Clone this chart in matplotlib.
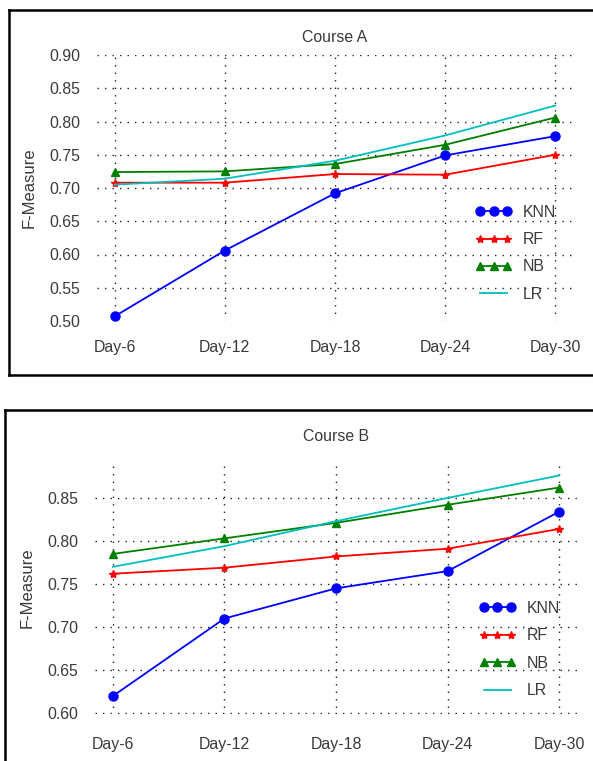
import matplotlib
matplotlib.use("Agg")
import matplotlib.pyplot as plt
from matplotlib.lines import Line2D
from matplotlib.legend_handler import HandlerLine2D

plt.rcParams['font.family'] = ['Liberation Sans', 'DejaVu Sans']

# datos
days = ['Day-6', 'Day-12', 'Day-18', 'Day-24', 'Day-30']

knn_a = [0.507, 0.606, 0.692, 0.749, 0.778]
rf_a = [0.708, 0.708, 0.721, 0.720, 0.750]
nb_a = [0.724, 0.725, 0.736, 0.765, 0.806]
lr_a = [0.705, 0.714, 0.741, 0.779, 0.824]

knn_b = [0.620, 0.710, 0.745, 0.765, 0.834]
rf_b = [0.762, 0.769, 0.782, 0.791, 0.814]
nb_b = [0.785, 0.803, 0.821, 0.842, 0.862]
lr_b = [0.770, 0.794, 0.823, 0.850, 0.876]

yticks_a = [0.50, 0.55, 0.60, 0.65, 0.70, 0.75, 0.80, 0.85, 0.90]
yticks_b = [0.60, 0.65, 0.70, 0.75, 0.80, 0.85]

W, H = 593, 761
txt = '#3a3a3a'
fs = 11.4


def panel(rect, title, knn, rf, nb, lr, yticks, ylim, title_pad, xpad, leg_xy):
    ax = fig.add_axes(rect)
    x = range(len(days))
    kw = dict(lw=1.3, clip_on=False, zorder=3)
    ax.plot(x, knn, '-o', color='b', ms=6.5, mec='b', label='KNN', **kw)
    ax.plot(x, rf, '-*', color='r', ms=6, mec='r', label='RF', **kw)
    ax.plot(x, nb, '-^', color='g', ms=6, mec='g', label='NB', **kw)
    ax.plot(x, lr, '-', color='c', label='LR', **kw)

    ax.set_xlim(-0.16, 4.16)
    ax.set_ylim(*ylim)
    ax.set_xticks(list(x))
    ax.set_xticklabels(days)
    ax.set_yticks(yticks)
    ax.set_yticklabels(['%.2f' % v for v in yticks])
    ax.tick_params(axis='both', length=0, labelsize=fs, labelcolor=txt)
    ax.tick_params(axis='y', pad=12)
    ax.tick_params(axis='x', pad=xpad)

    ax.grid(True, color='#222222', linestyle=(0, (1, 4.4)), linewidth=1)
    for s in ['top', 'left', 'right']:
        ax.spines[s].set_visible(False)
    # el borde inferior blanco tapa la linea de grilla de abajo
    ax.spines['bottom'].set_color('white')
    ax.spines['bottom'].set_linewidth(2)

    ax.set_title(title, fontsize=fs, color=txt, pad=title_pad)
    ax.set_ylabel('F-Measure', fontsize=12, color=txt)
    ax.yaxis.set_label_coords(-0.126, 0.5)

    ax.legend(loc='upper left', bbox_to_anchor=leg_xy, frameon=False,
              numpoints=3, handlelength=1.7, handletextpad=1.0,
              labelspacing=0.78, borderpad=0, borderaxespad=0,
              fontsize=fs, labelcolor=txt,
              handler_map={Line2D: HandlerLine2D(marker_pad=0)})
    return ax


fig = plt.figure(figsize=(W / 100, H / 100), dpi=100)

# marcos negros (sin lado derecho)
def px(x, y):
    return x / W, 1 - y / H

for (x0, y0), (x1, y1) in [((9, 10), (600, 10)), ((9, 10), (9, 375)),
                           ((9, 375), (600, 375)), ((5, 410), (600, 410)),
                           ((5, 410), (5, 770))]:
    a, b = px(x0, y0)
    c, d = px(x1, y1)
    fig.add_artist(Line2D([a, c], [b, d], transform=fig.transFigure,
                          color='black', lw=1.8, solid_capstyle='projecting'))

panel([97 / W, 1 - 321 / H, 476 / W, 266 / H], 'Course A',
      knn_a, rf_a, nb_a, lr_a, yticks_a, (0.50, 0.90), 9, 14, (0.805, 0.437))
panel([95 / W, 1 - 715 / H, 482 / W, 255 / H], 'Course B',
      knn_b, rf_b, nb_b, lr_b, yticks_b, (0.598, 0.894), 14, 16, (0.807, 0.447))

fig.savefig('out.png', dpi=100)
